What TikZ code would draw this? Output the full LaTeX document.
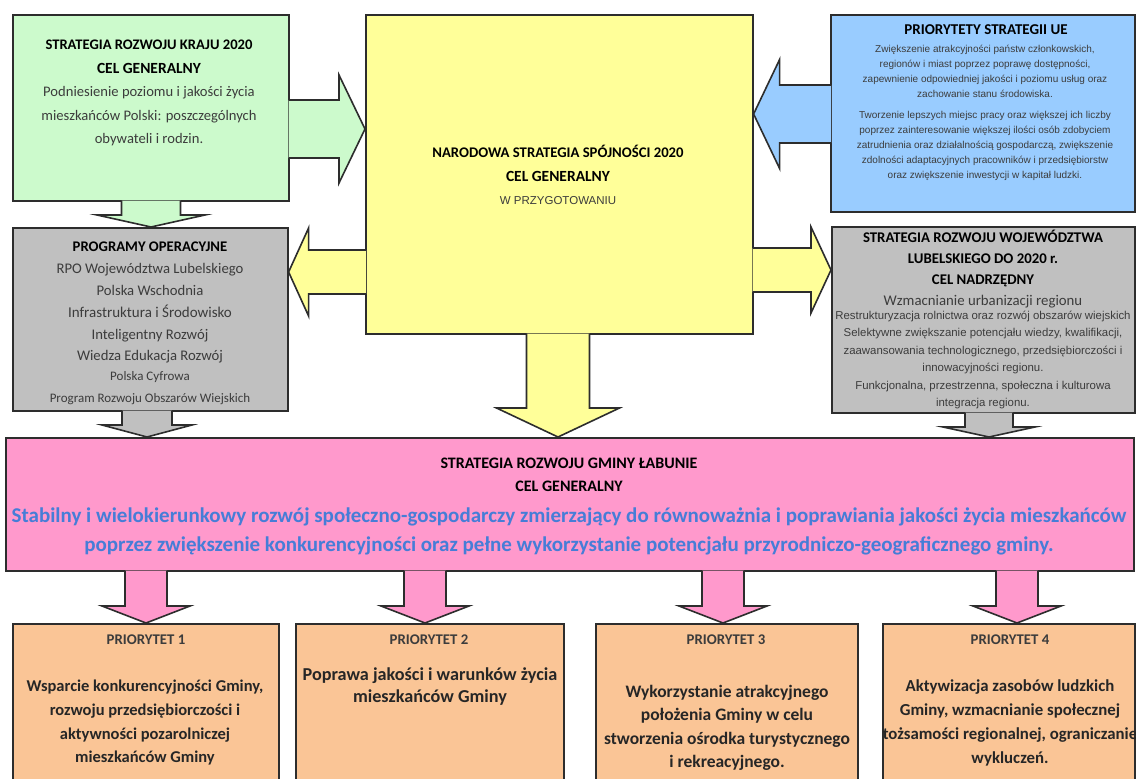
\documentclass[tikz,border=0pt]{standalone}
\usepackage{fontspec}
\setmainfont{Carlito}
\newfontfamily\arial{Liberation Sans}
\usetikzlibrary{calc}
\definecolor{cgreen}{RGB}{204,250,204}
\definecolor{cyellow}{RGB}{255,255,153}
\definecolor{cblue}{RGB}{153,204,255}
\definecolor{cgray}{RGB}{192,192,192}
\definecolor{cpink}{RGB}{255,153,204}
\definecolor{corange}{RGB}{250,197,150}
\definecolor{cborder}{RGB}{45,45,45}
\definecolor{ctext}{RGB}{60,60,60}
\definecolor{cbluetext}{RGB}{70,125,215}
\tikzset{
  box/.style={draw=cborder, line width=1.6pt, inner sep=0pt, anchor=north west},
  txt/.style={anchor=north, align=center, inner sep=0pt, text=ctext},
}
\newcommand{\fs}[2]{\fontsize{#1}{#2}\selectfont}
% horizontal block arrow: #1 tail, #2 tip, #3 shaft half, #4 head half, #5 head length (signed), #6 fill
\newcommand{\harrow}[6]{%
  \fill[#6] let \p1=(#1), \p2=(#2) in
    (\x1,{\y1+#3pt}) -- ({\x2-(#5pt)},{\y1+#3pt}) -- ({\x2-(#5pt)},{\y1+#4pt}) -- (\x2,\y1)
    -- ({\x2-(#5pt)},{\y1-#4pt}) -- ({\x2-(#5pt)},{\y1-#3pt}) -- (\x1,{\y1-#3pt}) -- cycle;
  \draw[cborder, line width=1.6pt, line join=miter] let \p1=(#1), \p2=(#2) in
    (\x1,{\y1+#3pt}) -- ({\x2-(#5pt)},{\y1+#3pt}) -- ({\x2-(#5pt)},{\y1+#4pt}) -- (\x2,\y1)
    -- ({\x2-(#5pt)},{\y1-#4pt}) -- ({\x2-(#5pt)},{\y1-#3pt}) -- (\x1,{\y1-#3pt});
}
% downward block arrow
\newcommand{\varrow}[6]{%
  \fill[#6] let \p1=(#1), \p2=(#2) in
    ({\x1-#3pt},\y1) -- ({\x1-#3pt},{\y2+#5pt}) -- ({\x1-#4pt},{\y2+#5pt}) -- (\x1,\y2)
    -- ({\x1+#4pt},{\y2+#5pt}) -- ({\x1+#3pt},{\y2+#5pt}) -- ({\x1+#3pt},\y1) -- cycle;
  \draw[cborder, line width=1.6pt, line join=miter] let \p1=(#1), \p2=(#2) in
    ({\x1-#3pt},\y1) -- ({\x1-#3pt},{\y2+#5pt}) -- ({\x1-#4pt},{\y2+#5pt}) -- (\x1,\y2)
    -- ({\x1+#4pt},{\y2+#5pt}) -- ({\x1+#3pt},{\y2+#5pt}) -- ({\x1+#3pt},\y1);
}
\begin{document}
\begin{tikzpicture}[x=1pt,y=-1pt]
\useasboundingbox (0,0) rectangle (1136,779);
\fill[white] (0,0) rectangle (1136,779);

% ---------- boxes ----------
\node[box, fill=cgreen, minimum width=276pt, minimum height=186pt] (green) at (12,14) {};
\node[box, fill=cyellow, minimum width=387pt, minimum height=319pt] (yellow) at (365,14) {};
\node[box, fill=cblue, minimum width=304pt, minimum height=197pt] (blue) at (830,14) {};
\node[box, fill=cgray, minimum width=275pt, minimum height=183pt] (grayL) at (12,227) {};
\node[box, fill=cgray, minimum width=303pt, minimum height=186pt] (grayR) at (831,226) {};
\node[box, fill=cpink, minimum width=1128pt, minimum height=133pt] (pink) at (5,437) {};
\node[box, fill=corange, minimum width=266pt, minimum height=170pt] (p1) at (12,623) {};
\node[box, fill=corange, minimum width=268pt, minimum height=170pt] (p2) at (295,623) {};
\node[box, fill=corange, minimum width=262pt, minimum height=170pt] (p3) at (595,623) {};
\node[box, fill=corange, minimum width=252pt, minimum height=170pt] (p4) at (882,623) {};

% ---------- arrows ----------
\coordinate (gy1) at ($(green.east |- {0,129})+(-1,0)$);
\coordinate (gy2) at (yellow.west |- {0,129});
\harrow{gy1}{gy2}{29}{54}{26}{cgreen}
\coordinate (by1) at ($(blue.west |- {0,114})+(1,0)$);
\coordinate (by2) at (yellow.east |- {0,114});
\harrow{by1}{by2}{29}{54.5}{-26}{cblue}
\coordinate (yl1) at ($(yellow.west |- {0,272})+(1,0)$);
\coordinate (yl2) at (grayL.east |- {0,272});
\harrow{yl1}{yl2}{22}{44}{-20}{cyellow}
\coordinate (yr1) at ($(yellow.east |- {0,270})+(-1,0)$);
\coordinate (yr2) at (grayR.west |- {0,270});
\harrow{yr1}{yr2}{22}{43}{20}{cyellow}
\coordinate (gg1) at ($(green.south -| {151,0})+(0,-1)$);
\coordinate (gg2) at (grayL.north -| {151,0});
\varrow{gg1}{gg2}{29.5}{54}{12}{cgreen}
\coordinate (yp1) at ($(yellow.south -| {558,0})+(0,-1)$);
\coordinate (yp2) at (pink.north -| {558,0});
\varrow{yp1}{yp2}{31.5}{61.5}{29}{cyellow}
\coordinate (lp1) at ($(grayL.south -| {147,0})+(0,-1)$);
\coordinate (lp2) at (pink.north -| {147,0});
\varrow{lp1}{lp2}{25}{45}{12}{cgray}
\coordinate (rp1) at ($(grayR.south -| {989,0})+(0,-1)$);
\coordinate (rp2) at (pink.north -| {989,0});
\varrow{rp1}{rp2}{24}{46}{10}{cgray}
\coordinate (pa1) at ($(pink.south -| {146,0})+(0,-1)$);
\coordinate (pa2) at (p1.north -| {146,0});
\varrow{pa1}{pa2}{21}{44}{17}{cpink}
\coordinate (pb1) at ($(pink.south -| {425,0})+(0,-1)$);
\coordinate (pb2) at (p2.north -| {425,0});
\varrow{pb1}{pb2}{21}{44}{17}{cpink}
\coordinate (pc1) at ($(pink.south -| {723,0})+(0,-1)$);
\coordinate (pc2) at (p3.north -| {723,0});
\varrow{pc1}{pc2}{21}{44}{17}{cpink}
\coordinate (pd1) at ($(pink.south -| {1017,0})+(0,-1)$);
\coordinate (pd2) at (p4.north -| {1017,0});
\varrow{pd1}{pd2}{21}{44}{17}{cpink}

% ---------- texts ----------
\node[txt, font=\fs{14.6}{23.5}] (tgreen) at (149,40) {%
  {\bfseries\color{black}STRATEGIA ROZWOJU KRAJU 2020}\\
  {\bfseries\color{black}\fs{15.5}{23.5}CEL GENERALNY}\\
  Podniesienie poziomu i jakości życia\\
  mieszkańców Polski: poszczególnych\\
  obywateli i rodzin.};

\node[txt, font=\fs{14.7}{23.5}] (tyellow) at (558,145) {%
  {\bfseries\color{black}NARODOWA STRATEGIA SPÓJNOŚCI 2020}\\
  {\bfseries\color{black}\fs{15.5}{23.5}CEL GENERALNY}\\
  {\arial\fs{11.5}{21}W PRZYGOTOWANIU}};

\node[txt, font=\fs{15}{17}] (tbluehead) at (986,24) {\bfseries\color{black}PRIORYTETY STRATEGII UE};
\node[txt, font=\arial\fs{10}{15}] (tblue) at (985,45) {%
  Zwiększenie atrakcyjności państw członkowskich,\\
  regionów i miast poprzez poprawę dostępności,\\
  zapewnienie odpowiedniej jakości i poziomu usług oraz\\
  zachowanie stanu środowiska.\\[6pt]
  Tworzenie lepszych miejsc pracy oraz większej ich liczby\\
  poprzez zainteresowanie większej ilości osób zdobyciem\\
  zatrudnienia oraz działalnością gospodarczą, zwiększenie\\
  zdolności adaptacyjnych pracowników i przedsiębiorstw\\
  oraz zwiększenie inwestycji w kapitał ludzki.};

\node[txt, font=\fs{14.7}{21.8}] (tgrayL) at (150,242) {%
  {\bfseries\color{black}PROGRAMY OPERACYJNE}\\
  RPO Województwa Lubelskiego\\
  Polska Wschodnia\\
  {\fs{15}{21.8}Infrastruktura i Środowisko}\\
  Inteligentny Rozwój\\
  Wiedza Edukacja Rozwój\\[-2pt]
  {\fs{13}{15.5}Polska Cyfrowa}\\
  {\fs{13}{15.5}Program Rozwoju Obszarów Wiejskich}};

\node[txt, font=\fs{14.8}{20.8}] (tgrayRhead) at (983,230) {%
  {\bfseries\color{black}STRATEGIA ROZWOJU WOJEWÓDZTWA}\\
  {\bfseries\color{black}LUBELSKIEGO DO 2020 r.}\\
  {\bfseries\color{black}CEL NADRZĘDNY}\\
  Wzmacnianie urbanizacji regionu};
\node[txt, font=\arial\fs{11.4}{17.4}] (tgrayR) at (983,311) {%
  Restrukturyzacja rolnictwa oraz rozwój obszarów wiejskich\\
  Selektywne zwiększanie potencjału wiedzy, kwalifikacji,\\
  zaawansowania technologicznego, przedsiębiorczości i\\
  innowacyjności regionu.\\
  Funkcjonalna, przestrzenna, społeczna i kulturowa\\
  integracja regionu.};

\node[txt, font=\bfseries\fs{16}{23}, text=black] (tpinkhead) at (569,458) {%
  STRATEGIA ROZWOJU GMINY ŁABUNIE\\CEL GENERALNY};
\node[txt, font=\bfseries\fs{21}{29}, text=cbluetext] (tpink) at (569,508) {%
  Stabilny i wielokierunkowy rozwój społeczno-gospodarczy zmierzający do równoważnia i poprawiania jakości życia mieszkańców\\
  poprzez zwiększenie konkurencyjności oraz pełne wykorzystanie potencjału przyrodniczo-geograficznego gminy.};

\node[txt, font=\bfseries\fs{14.8}{15}] (tp1h) at (146,635) {PRIORYTET 1};
\node[txt, font=\bfseries\fs{16.5}{23.7}, text=black!85] (tp1) at (145,680) {%
  Wsparcie konkurencyjności Gminy,\\rozwoju przedsiębiorczości i\\aktywności pozarolniczej\\mieszkańców Gminy};
\node[txt, font=\bfseries\fs{14.8}{15}] (tp2h) at (429,635) {PRIORYTET 2};
\node[txt, font=\bfseries\fs{18.2}{22}, text=black!85] (tp2) at (430,667) {%
  Poprawa jakości i warunków życia\\mieszkańców Gminy};
\node[txt, font=\bfseries\fs{14.8}{15}] (tp3h) at (726,635) {PRIORYTET 3};
\node[txt, font=\bfseries\fs{17.5}{23.5}, text=black!85] (tp3) at (727,685) {%
  Wykorzystanie atrakcyjnego\\położenia Gminy w celu\\stworzenia ośrodka turystycznego\\i rekreacyjnego.};
\node[txt, font=\bfseries\fs{14.8}{15}] (tp4h) at (1010,635) {PRIORYTET 4};
\node[txt, font=\bfseries\fs{16.8}{23.7}, text=black!85] (tp4) at (1010,680) {%
  Aktywizacja zasobów ludzkich\\Gminy, wzmacnianie społecznej\\tożsamości regionalnej, ograniczanie\\wykluczeń.};
\end{tikzpicture}
\end{document}
